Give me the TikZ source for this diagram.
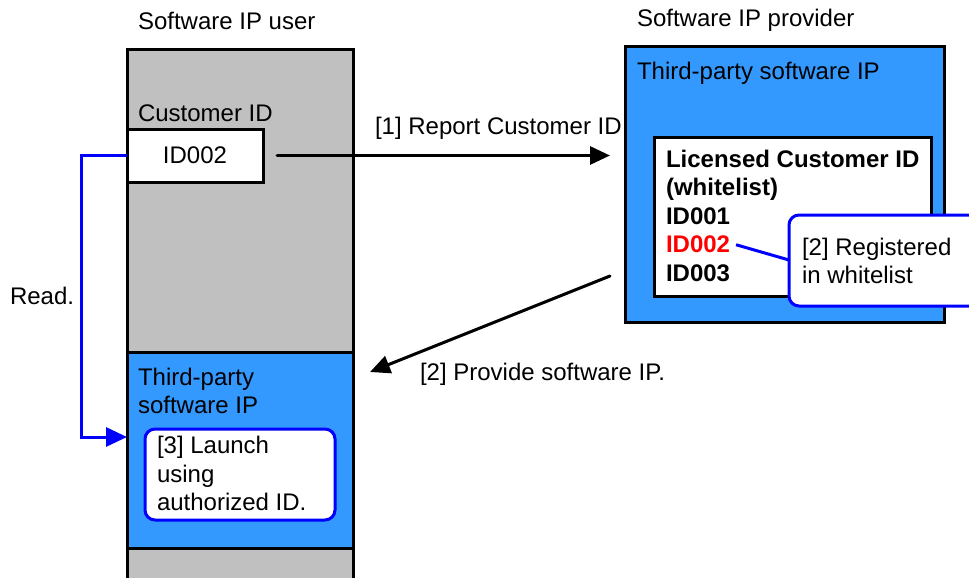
\documentclass[tikz,border=0pt]{standalone}
\usepackage{fontspec}
\setmainfont{Liberation Sans}
\usetikzlibrary{arrows.meta}
\definecolor{grayfill}{HTML}{C0C0C0}
\definecolor{ipblue}{HTML}{3399FF}
\definecolor{lineblue}{HTML}{0000FF}
\definecolor{idred}{HTML}{FF0000}
\begin{document}
\begin{tikzpicture}[x=1pt,y=-1pt,
  font=\fontsize{24}{28}\selectfont,
  box/.style={rectangle, anchor=north west, inner sep=0pt, outer sep=0pt, line width=3pt},
  roundbox/.style={box, rounded corners=10pt, fill=white, draw=lineblue},
  lbl/.style={anchor=base west, inner sep=0pt, outer sep=0pt},
  boldlbl/.style={lbl, font=\fontsize{24}{28}\selectfont\bfseries},
  arr/.style={line width=3pt, line cap=round, -{Triangle[length=20pt,width=18pt]}},
  bluearr/.style={line width=3pt, draw=lineblue, -{Triangle[length=21pt,width=19pt,fill=lineblue]}},
  blueline/.style={line width=3pt, draw=lineblue}]
\clip (0,0) rectangle (969,578);
% left column (user)
\node[box, fill=grayfill, draw=black, minimum width=226pt, minimum height=560pt] (usercol) at (127,50) {};
\node[box, fill=ipblue, draw=black, minimum width=226pt, minimum height=196pt] (userip) at (127,352) {};
\node[box, fill=white, draw=black, minimum width=136pt, minimum height=53pt] (idbox) at (127,129) {ID002};
\node[roundbox, minimum width=190pt, minimum height=91pt] (launch) at (145,429) {};
% titles and labels, left
\node[lbl] (usertitle) at (138,30) {Software IP user};
\node[lbl] (custid) at (138,121) {Customer ID};
\node[lbl] (tp1) at (138,385) {Third-party};
\node[lbl] (tp2) at (138,413) {software IP};
\node[lbl] (la1) at (157,453) {[3] Launch};
\node[lbl] (la2) at (157,482) {using};
\node[lbl] (la3) at (157,510) {authorized ID.};
\node[lbl] (readlbl) at (10,304) {Read.};
% right (provider)
\node[lbl] (provtitle) at (637,27) {Software IP provider};
\node[box, fill=ipblue, draw=black, minimum width=319pt, minimum height=275pt] (provbox) at (625,47) {};
\node[lbl] (provip) at (637,80) {Third-party software IP};
\node[box, fill=white, draw=black, minimum width=277pt, minimum height=159pt] (wlbox) at (654,137) {};
\node[boldlbl] (wl1) at (666,167) {Licensed Customer ID};
\node[boldlbl] (wl2) at (666,195) {(whitelist)};
\node[boldlbl] (id1) at (666,224) {ID001};
\node[boldlbl, text=idred] (id2) at (666,252) {ID002};
\node[boldlbl] (id3) at (666,281) {ID003};
\draw[blueline] ([xshift=6pt,yshift=-1pt]id2.east) -- (789,260) coordinate (calloutin);
\node[roundbox, minimum width=200pt, minimum height=91pt] (callout) at (789,215) {};
\node[lbl] (reg1) at (802,255) {[2] Registered};
\node[lbl] (reg2) at (802,283) {in whitelist};
% arrows
\draw[arr] ([xshift=14pt]idbox.east) -- ([xshift=-15pt]idbox.east -| provbox.west);
\node[lbl] (rep) at (375,134) {[1] Report Customer ID};
\coordinate (a2s) at (610,276);
\coordinate (a2e) at (370,372);
\draw[arr] (a2s) -- (a2e);
\node[lbl] (prov) at (420,380) {[2] Provide software IP.};
\coordinate (readend) at (127,437);
\draw[bluearr] (idbox.west) -- ++(-46,0) |- (readend);
\end{tikzpicture}
\end{document}
